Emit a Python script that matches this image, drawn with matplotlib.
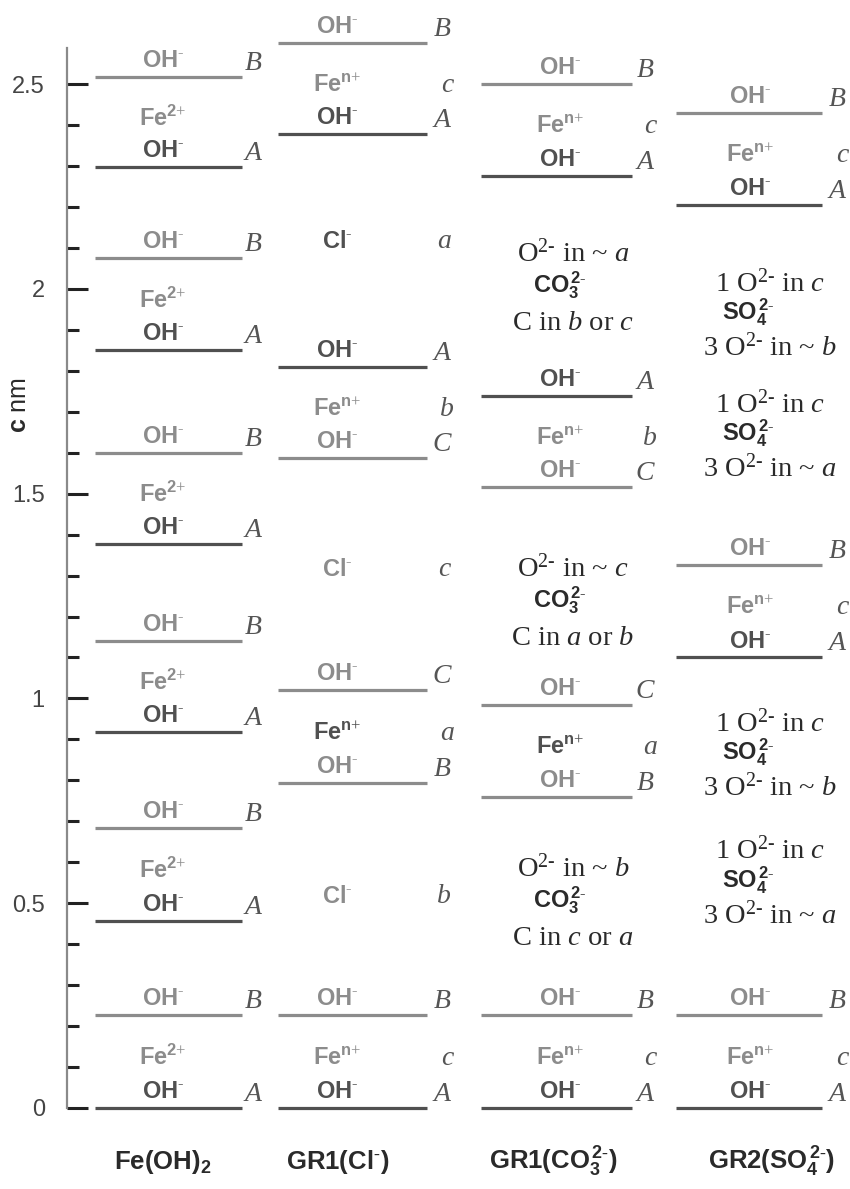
import matplotlib
matplotlib.use('Agg')
import matplotlib.pyplot as plt
from matplotlib.ticker import MultipleLocator, FormatStrFormatter

# 字体设置：无衬线用于离子，衬线斜体用于位置字母
plt.rcParams['font.family'] = ['Liberation Sans', 'DejaVu Sans']
plt.rcParams['mathtext.fontset'] = 'custom'
plt.rcParams['mathtext.rm'] = 'Liberation Serif'
plt.rcParams['mathtext.it'] = 'Liberation Serif:italic'
plt.rcParams['mathtext.bf'] = 'Liberation Sans:bold'
plt.rcParams['mathtext.sf'] = 'Liberation Sans'

# 各结构名称
columns = [r'$\mathbf{Fe(OH)_2}$', r'$\mathbf{GR1(Cl^{\text{-}})}$',
           r'$\mathbf{GR1(CO_3^{\,2\text{-}})}$', r'$\mathbf{GR2(SO_4^{\,2\text{-}})}$']

# OH- 层高度 (nm) 与堆垛位置
feoh2_oh = [0, 0.227, 0.457, 0.684, 0.918, 1.140, 1.377, 1.599, 1.850, 2.075, 2.297, 2.517]
feoh2_site = ['A', 'B'] * 6
grcl_oh = [0, 0.227, 0.793, 1.020, 1.587, 1.809, 2.378, 2.600]
grcl_site = ['A', 'B', 'B', 'C', 'C', 'A', 'A', 'B']
grco3_oh = [0, 0.227, 0.759, 0.984, 1.516, 1.738, 2.275, 2.500]
grco3_site = ['A', 'B', 'B', 'C', 'C', 'A', 'A', 'B']
grso4_oh = [0, 0.227, 1.100, 1.326, 2.205, 2.429]
grso4_site = ['A', 'B', 'A', 'B', 'A', 'B']

# 每个八面体层中 Fe 的位置
grcl_fe = ['c', 'a', 'b', 'c']
grco3_fe = ['c', 'a', 'b', 'c']
grso4_fe = ['c', 'c', 'c']

# 层间阴离子
cl_y = [0.50, 1.30, 2.10]
cl_site = ['b', 'c', 'a']
co3_y = [0.508, 1.240, 2.009]
co3_o = ['b', 'c', 'a']
co3_c = [('c', 'a'), ('a', 'b'), ('b', 'c')]
so4_y = [0.557, 0.869, 1.648, 1.943]
so4_o3 = ['a', 'b', 'a', 'b']

DARK = '#505050'
LIGHT = '#8c8c8c'
INK = '#2a2a2a'
LETTER = '#555555'

OH = r'$\mathbf{OH^{\text{-}}}$'
FE2 = r'$\mathbf{Fe^{2\text{+}}}$'
FEN = r'$\mathbf{Fe^{n\text{+}}}$'
CL = r'$\mathbf{Cl^{\text{-}}}$'
SUP = r'$^{2\text{-}}$'

ION_FS = 17
LET_FS = 20
SERIF_FS = 20.5

# 列的横向位置（像素坐标）
line_x = [(95, 242), (278, 427), (481, 632), (676, 822)]
label_x = [163, 337, 560, 750]
site_x = [253, 442, 645, 837]
title_x = [163, 338, 553, 772]

fig = plt.figure(figsize=(8.5, 11.89), dpi=100)
ax = fig.add_axes([67 / 850, 81 / 1189, 783 / 850, 1060 / 1189])
ax.set_xlim(67, 850)
ax.set_ylim(0, 2.588)


def shade(site):
    return DARK if site.lower() == 'a' else LIGHT


def draw_column(i, oh, sites, fe=None):
    x0, x1 = line_x[i]
    for y, s in zip(oh, sites):
        ax.hlines(y, x0, x1, colors=shade(s), lw=2.3, clip_on=False)
        ax.text(label_x[i], y + 0.024, OH, color=shade(s),
                fontsize=ION_FS, ha='center', va='baseline', clip_on=False)
        ax.text(site_x[i], y + 0.017, s, family='Liberation Serif', style='italic',
                color=LETTER, fontsize=LET_FS, ha='center', va='baseline', clip_on=False)
    # 两层 OH- 之间的 Fe
    for k in range(len(oh) // 2):
        mid = (oh[2 * k] + oh[2 * k + 1]) / 2 - 0.008
        if fe is None:
            ax.text(label_x[i], mid, FE2, color=LIGHT,
                    fontsize=ION_FS, ha='center', va='baseline')
        else:
            ax.text(label_x[i], mid, FEN, color=shade(fe[k]),
                    fontsize=ION_FS, ha='center', va='baseline')
            ax.text(site_x[i] + 5, mid, fe[k], family='Liberation Serif', style='italic',
                    color=LETTER, fontsize=LET_FS, ha='center', va='baseline')


draw_column(0, feoh2_oh, feoh2_site)
draw_column(1, grcl_oh, grcl_site, grcl_fe)
draw_column(2, grco3_oh, grco3_site, grco3_fe)
draw_column(3, grso4_oh, grso4_site, grso4_fe)

# Cl- 层间
for y, s in zip(cl_y, cl_site):
    ax.text(label_x[1], y, CL, color=shade(s),
            fontsize=ION_FS, ha='center', va='baseline')
    ax.text(site_x[1] + 2, y, s, family='Liberation Serif', style='italic',
            color=LETTER, fontsize=LET_FS, ha='center', va='baseline')

# CO3 2- 层间
for y, o, (c1, c2) in zip(co3_y, co3_o, co3_c):
    ax.text(573, y + 0.078, 'O' + SUP + ' in ~ $' + o + '$', family='Liberation Serif',
            color=INK, fontsize=SERIF_FS, ha='center', va='center')
    ax.text(560, y, r'$\mathbf{CO_3^{\,2\text{-}}}$', color=INK,
            fontsize=ION_FS, ha='center', va='center')
    ax.text(573, y - 0.093, 'C in $' + c1 + '$ or $' + c2 + '$', family='Liberation Serif',
            color=INK, fontsize=SERIF_FS, ha='center', va='center')

# SO4 2- 层间
for y, o in zip(so4_y, so4_o3):
    ax.text(770, y + 0.071, '1 O' + SUP + ' in $c$', family='Liberation Serif',
            color=INK, fontsize=SERIF_FS, ha='center', va='center')
    ax.text(748, y, r'$\mathbf{SO_4^{\,2\text{-}}}$', color=INK,
            fontsize=ION_FS, ha='center', va='center')
    ax.text(770, y - 0.087, '3 O' + SUP + ' in ~ $' + o + '$', family='Liberation Serif',
            color=INK, fontsize=SERIF_FS, ha='center', va='center')

# 底部结构名称
for x, t in zip(title_x, columns):
    ax.text(x, -0.132, t, color=INK, fontsize=18.5, ha='center', va='center', clip_on=False)

# 坐标轴
for side in ['top', 'right', 'bottom']:
    ax.spines[side].set_visible(False)
ax.spines['left'].set_color('#8a8a8a')
ax.spines['left'].set_linewidth(1.6)
ax.set_xticks([])
ax.yaxis.set_major_locator(MultipleLocator(0.5))
ax.yaxis.set_minor_locator(MultipleLocator(0.1))
ax.yaxis.set_major_formatter(FormatStrFormatter('%g'))
ax.tick_params(axis='y', which='major', direction='in', length=15, width=2.2,
               color='#222222', labelsize=17, labelcolor='#444444', pad=16)
ax.tick_params(axis='y', which='minor', direction='in', length=8.5, width=2.2,
               color='#222222')
ax.set_ylabel(r'$\mathbf{c}$ nm', fontsize=18, color=INK)
ax.yaxis.set_label_coords(-36 / 783, (1108 - 405) / 1060)
ax.patch.set_visible(False)

plt.savefig('out.png', dpi=100)
